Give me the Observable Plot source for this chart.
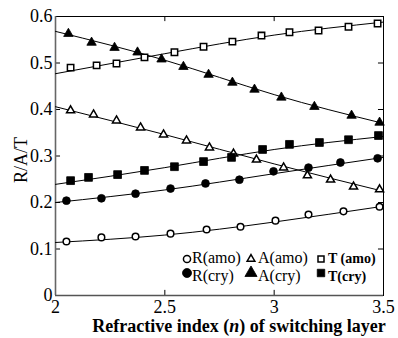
<!DOCTYPE html>
<html>
<head>
<meta charset="utf-8">
<script src="https://cdn.jsdelivr.net/npm/d3@7"></script>
<script src="https://cdn.jsdelivr.net/npm/@observablehq/plot@0.6"></script>
<style>
  html, body { margin: 0; padding: 0; background: #fff; }
  #chart { width: 398px; height: 338px; }
  #chart svg, #chart svg text { font-family: "Liberation Serif", "Times New Roman", serif !important; }
</style>
</head>
<body>
<div id="chart"></div>
<script>
// ---- Data ----
const xTicks = [2, 2.5, 3, 3.5];
const yTicks = [0, 0.1, 0.2, 0.3, 0.4, 0.5, 0.6];

// Markers
const rAmoX = [2.050, 2.210, 2.366, 2.526, 2.691, 2.846, 3.006, 3.157, 3.317, 3.482];
const rAmoY = [0.116, 0.125, 0.127, 0.133, 0.142, 0.148, 0.161, 0.174, 0.181, 0.191];

const rCryX = [2.050, 2.210, 2.366, 2.526, 2.686, 2.841, 2.997, 3.157, 3.303, 3.473];
const rCryY = [0.204, 0.209, 0.219, 0.230, 0.241, 0.249, 0.267, 0.275, 0.286, 0.295];

const aAmoX = [2.069, 2.174, 2.279, 2.389, 2.494, 2.599, 2.704, 2.814, 2.919, 3.043, 3.152, 3.258, 3.363, 3.482];
const aAmoY = [0.398, 0.389, 0.376, 0.361, 0.346, 0.333, 0.318, 0.305, 0.292, 0.275, 0.258, 0.249, 0.234, 0.228];

const aCryX = [2.059, 2.165, 2.270, 2.375, 2.485, 2.585, 2.700, 2.809, 2.910, 3.033, 3.184, 3.354, 3.482];
const aCryY = [0.563, 0.544, 0.533, 0.523, 0.508, 0.492, 0.475, 0.458, 0.443, 0.426, 0.406, 0.387, 0.372];

const tAmoX = [2.069, 2.188, 2.279, 2.407, 2.544, 2.677, 2.809, 2.942, 3.070, 3.203, 3.340, 3.473];
const tAmoY = [0.490, 0.495, 0.499, 0.512, 0.523, 0.535, 0.546, 0.559, 0.566, 0.570, 0.578, 0.585];

const tCryX = [2.069, 2.151, 2.284, 2.407, 2.544, 2.677, 2.805, 2.947, 3.070, 3.207, 3.340, 3.477];
const tCryY = [0.247, 0.254, 0.260, 0.269, 0.277, 0.288, 0.297, 0.314, 0.325, 0.329, 0.335, 0.344];

// Fitted curves
const fitX    = [2, 2.5, 3, 3.5];
const rAmoFit = [0.114, 0.130, 0.158, 0.192];
const rCryFit = [0.200, 0.227, 0.262, 0.297];
const aAmoFit = [0.406, 0.346, 0.283, 0.224];
const aCryFit = [0.568, 0.506, 0.432, 0.370];
const tAmoFit = [0.477, 0.520, 0.560, 0.588];
const tCryFit = [0.239, 0.275, 0.314, 0.342];

// Legend labels
const legendLabels = ["R(amo)", "A(amo)", "T (amo)", "R(cry)", "A(cry)", "T(cry)"];

// ---- Build tables ----
const pts = (xs, ys) => xs.map((x, i) => ({x, y: ys[i]}));
const fit = (ys) => fitX.map((x, i) => ({x, y: ys[i]}));

const series = [
  {pts: pts(rAmoX, rAmoY), fit: fit(rAmoFit), symbol: "circle",   filled: false, r: 3.3},
  {pts: pts(rCryX, rCryY), fit: fit(rCryFit), symbol: "circle",   filled: true,  r: 3.9},
  {pts: pts(aAmoX, aAmoY), fit: fit(aAmoFit), symbol: "triangle", filled: false, r: 3.0},
  {pts: pts(aCryX, aCryY), fit: fit(aCryFit), symbol: "triangle", filled: true,  r: 3.5},
  {pts: pts(tAmoX, tAmoY), fit: fit(tAmoFit), symbol: "square",   filled: false, r: 3.6},
  {pts: pts(tCryX, tCryY), fit: fit(tCryFit), symbol: "square",   filled: true,  r: 4.4}
];

const marks = [];
for (const s of series) {
  marks.push(Plot.line(s.fit, {x: "x", y: "y", curve: "natural", stroke: "black", strokeWidth: 1}));
}
for (const s of series) {
  marks.push(Plot.dot(s.pts, {
    x: "x", y: "y", symbol: () => s.symbol, r: s.r,
    fill: s.filled ? "black" : "white",
    stroke: "black",
    strokeWidth: s.filled ? 0.8 : 1.5
  }));
}

const svg = Plot.plot({
  width: 398,
  height: 338,
  marginLeft: 55,
  marginRight: 15,
  marginTop: 16,
  marginBottom: 43,
  x: {domain: [2, 3.5]},
  y: {domain: [0, 0.6]},
  symbol: {type: "identity"},
  style: {fontFamily: "'Liberation Serif', 'Times New Roman', serif", fontSize: "18px", background: "white", color: "black"},
  marks: [
    Plot.frame({stroke: "black", strokeWidth: 1}),
    Plot.axisX(xTicks, {tickSize: 0, tickPadding: 5, tickFormat: d => String(d), label: null, fontSize: 18}),
    Plot.axisY(yTicks, {tickSize: 0, tickPadding: 3, tickFormat: d => String(d), label: null, fontSize: 18}),
    // inward ticks on all four sides
    Plot.ruleX(xTicks.slice(1, -1), {x: d => d, y1: 0, y2: 0.011, stroke: "black"}),
    Plot.ruleX(xTicks.slice(1, -1), {x: d => d, y1: 0.589, y2: 0.6, stroke: "black"}),
    Plot.ruleY(yTicks.slice(1, -1), {y: d => d, x1: 2, x2: 2.023, stroke: "black"}),
    Plot.ruleY(yTicks.slice(1, -1), {y: d => d, x1: 3.477, x2: 3.5, stroke: "black"}),
    Plot.ruleX([2], {stroke: "#666", strokeWidth: 1.6}),
    Plot.ruleY([0], {stroke: "#555", strokeWidth: 1.3}),
    ...marks
  ]
});

const root = d3.select(svg);

// Y label
root.append("text")
  .attr("transform", "translate(21,160) rotate(-90)")
  .attr("text-anchor", "middle")
  .attr("dy", "0.35em")
  .attr("fill", "black")
  .style("font-size", "18px")
  .text("R/A/T");

// X label with italic n
const xl = root.append("text")
  .attr("x", 239).attr("y", 332)
  .attr("text-anchor", "middle")
  .attr("fill", "black")
  .style("font-weight", "bold")
  .style("font-size", "18px");
xl.append("tspan").text("Refractive index (");
xl.append("tspan").style("font-style", "italic").text("n");
xl.append("tspan").text(") of switching layer");

// Legend (two rows, three columns)
const legendSymbols = [d3.symbolCircle, d3.symbolTriangle, d3.symbolSquare, d3.symbolCircle, d3.symbolTriangle, d3.symbolSquare];
const legendFilled = [false, false, false, true, true, true];
const symSize = [40, 26, 36, 64, 64, 56];
const colSymX = [187, 251, 321];
const colTextX = [192, 258, 328];
const rowSymY = [259, 273];
const rowTextY = [263, 281];
const lg = root.append("g").attr("text-anchor", "start");
legendLabels.forEach((lab, i) => {
  const row = Math.floor(i / 3), col = i % 3;
  lg.append("path")
    .attr("d", d3.symbol(legendSymbols[i], symSize[i])())
    .attr("transform", `translate(${colSymX[col]},${rowSymY[row]})`)
    .attr("fill", legendFilled[i] ? "black" : "white")
    .attr("stroke", "black")
    .attr("stroke-width", legendFilled[i] ? 0.8 : 1.5);
  lg.append("text")
    .attr("x", colTextX[col]).attr("y", rowTextY[row])
    .attr("text-anchor", "start")
    .attr("fill", "black")
    .style("font-size", col === 2 ? "14px" : "16px")
    .style("font-weight", col === 2 ? "bold" : "normal")
    .text(lab);
});

document.getElementById("chart").appendChild(svg);
</script>
</body>
</html>
